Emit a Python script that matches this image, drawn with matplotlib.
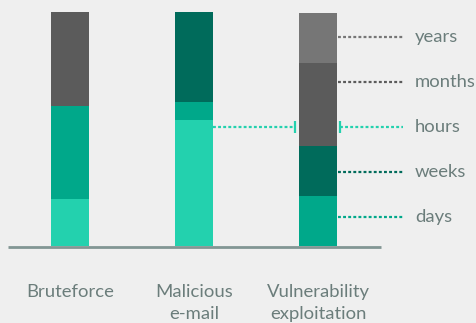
import numpy as np
import matplotlib
matplotlib.use("Agg")
import matplotlib.pyplot as plt

# Share of attacks by how long the attacker stayed, per initial vector (%)
categories = ['Bruteforce', 'Malicious\ne-mail', 'Vulnerability\nexploitation']
periods = ['hours', 'days', 'weeks', 'months', 'years']
hours = [20.0, 53.8, 0.0]
days = [40.0, 7.7, 21.4]
weeks = [0.0, 38.5, 21.4]
months = [40.0, 0.0, 35.7]
years = [0.0, 0.0, 21.4]

colors = {
    'hours': '#23d1ae',
    'days': '#00a88a',
    'weeks': '#006b5b',
    'months': '#5b5b5b',
    'years': '#767676',
}
BG = '#efefef'
TEXT = '#6b7d7b'

plt.rcParams['font.family'] = ['Lato', 'DejaVu Sans']

fig = plt.figure(figsize=(4.76, 3.23), dpi=100, facecolor=BG)
ax = fig.add_axes([0, 0, 1, 1])
ax.set_facecolor(BG)

x = np.arange(len(categories))
width = 0.306
bottom = np.zeros(len(categories))
for name, vals in zip(periods, [hours, days, weeks, months, years]):
    vals = np.array(vals)
    ax.bar(x, vals, width, bottom=bottom, color=colors[name],
           edgecolor='none', zorder=2)
    bottom += vals

# baseline under the bars
ax.plot([-0.5, 2.506], [-0.6, -0.6], color='#829694', lw=2.0,
        solid_capstyle='butt', zorder=3)

# dotted leader lines to the period labels
dots = (0, (1.3, 1.0))
label_y = {'years': 89.5, 'months': 70.2, 'hours': 51.0,
           'weeks': 31.7, 'days': 12.4}
right = x[2] + width / 2
for name in ['years', 'months', 'weeks', 'days']:
    ax.plot([right + 0.01, 2.685], [label_y[name]] * 2, color=colors[name],
            lw=1.6, ls=dots, zorder=1)

# hours: e-mail bar across to the (empty) exploitation bar, with brackets
hy = label_y['hours']
ax.plot([x[1] + width / 2, 1.815], [hy, hy], color=colors['hours'],
        lw=1.6, ls=dots, zorder=1)
ax.plot([2.177, 2.685], [hy, hy], color=colors['hours'],
        lw=1.6, ls=dots, zorder=1)
for tx in [1.815, 2.177]:
    ax.plot([tx, tx], [hy - 2.4, hy + 2.4], color=colors['hours'],
            lw=1.6, solid_capstyle='butt', zorder=1)

for name in periods:
    ax.text(2.782, label_y[name], name, color=TEXT, fontsize=13.3,
            va='center', ha='left')

for xi, cat in zip(x, categories):
    ax.text(xi, -16.3, cat, color=TEXT, fontsize=13.3, ha='center',
            va='top', linespacing=1.45)

ax.set_xlim(-0.565, 3.274)
ax.set_ylim(-32.98, 105.35)
ax.axis('off')

fig.savefig('out.png', dpi=100, facecolor=BG)
